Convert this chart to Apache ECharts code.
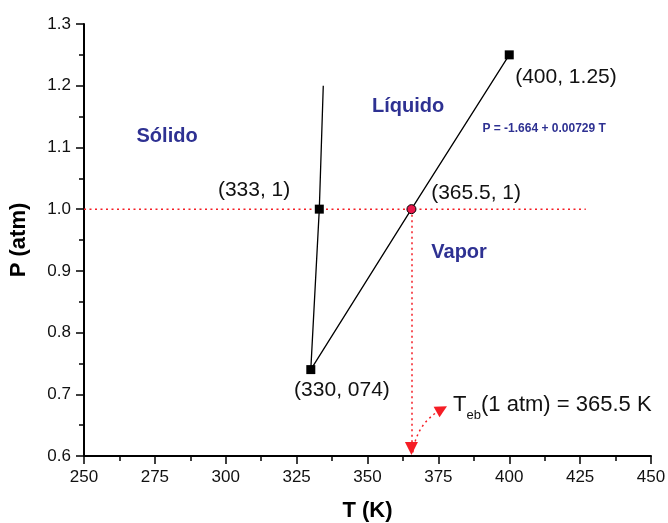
<!DOCTYPE html>
<html>
<head>
<meta charset="utf-8">
<script src="https://cdn.jsdelivr.net/npm/echarts@6/dist/echarts.min.js"></script>
<style>html,body{margin:0;padding:0;background:#fff;}#c{width:668px;height:523px;}</style>
</head>
<body>
<div id="c"></div>
<script>
// ---- data ----
const xTicks = [250, 275, 300, 325, 350, 375, 400, 425, 450];
const yTicks = [0.6, 0.7, 0.8, 0.9, 1.0, 1.1, 1.2, 1.3];
// solid-liquid line
const solidLineT = [330, 333, 334.4];
const solidLineP = [0.74, 1.0, 1.2];
// liquid-vapor line
const vaporLineT = [330, 365.5, 400];
const vaporLineP = [0.74, 1.0, 1.25];
// square markers
const markerT = [330, 333, 400];
const markerP = [0.74, 1.0, 1.25];
// boiling point
const boilT = [365.5];
const boilP = [1.0];
// 1 atm guide line
const guideT = [250, 427];
const guideP = [1.0, 1.0];
// vertical drop from boiling point towards the axis (arrow centre)
const dropT = [365.5, 365.5];
const dropP = [1.0, 0.612];
// curved arrow (from axis to label)
const curveT = [366, 376.2];
const curveP = [0.606, 0.676];
// annotations
const annText = ['Sólido', 'Líquido', 'Vapor', 'P = -1.664 + 0.00729 T', '(333, 1)', '(365.5, 1)', '(400, 1.25)', '(330, 074)'];
const annT = [279.3, 364.3, 382.3, 412.3, 310.0, 388.3, 420.0, 341.0];
const annP = [1.118, 1.167, 0.930, 1.130, 1.031, 1.026, 1.214, 0.706];
const annKind = ['region', 'region', 'region', 'eq', 'pt', 'pt', 'pt', 'pt'];
const tebT = 380.2, tebP = 0.682;

const FONT = '"Liberation Sans", Arial, Helvetica, sans-serif';
const BLUE = '#2e3192';
const RED = '#f51d25';

const kindStyle = {
  region: {fontSize: 20, fontWeight: 'bold', color: BLUE},
  eq: {fontSize: 12, fontWeight: 'bold', color: BLUE},
  pt: {fontSize: 21, fontWeight: 'normal', color: '#111'}
};

const zip = (a, b) => a.map((v, i) => [v, b[i]]);

const annData = annText.map((t, i) => ({
  value: [annT[i], annP[i]],
  label: Object.assign({show: true, formatter: t, position: 'inside', fontFamily: FONT, opacity: 1}, kindStyle[annKind[i]])
}));
annData.push({
  value: [tebT, tebP],
  label: {
    show: true, position: 'inside', align: 'left', fontFamily: FONT, opacity: 1,
    formatter: '{t|T}{s|eb}{t|(1 atm) = 365.5 K}',
    rich: {
      t: {fontSize: 22, color: '#111', fontFamily: FONT, lineHeight: 34},
      s: {fontSize: 13, color: '#111', fontFamily: FONT, lineHeight: 14, verticalAlign: 'bottom'}
    }
  }
});

const axisCommon = {
  type: 'value',
  nameLocation: 'middle',
  nameTextStyle: {fontFamily: FONT, fontSize: 22, fontWeight: 'bold', color: '#000'},
  axisLine: {show: true, onZero: false, lineStyle: {color: '#000', width: 2}},
  axisTick: {show: true, inside: false, length: 8, lineStyle: {color: '#000', width: 1.5}},
  minorTick: {show: true, splitNumber: 2, length: 5, lineStyle: {color: '#000', width: 1.5}},
  splitLine: {show: false},
  minorSplitLine: {show: false},
  axisLabel: {fontFamily: FONT, fontSize: 17, color: '#111', margin: 13}
};

const arrowLine = {
  type: 'lines', coordinateSystem: 'cartesian2d', z: 1,
  symbol: ['none', 'triangle'],
  lineStyle: {color: RED, width: 1.5, type: [2, 3.5], opacity: 1},
  itemStyle: {color: RED}
};

const chart = echarts.init(document.getElementById('c'), null, {renderer: 'canvas'});
chart.setOption({
  animation: false,
  backgroundColor: '#fff',
  grid: {left: 84, right: 17, top: 24, bottom: 67, containLabel: false, outerBoundsMode: 'none'},
  xAxis: Object.assign({}, axisCommon, {
    name: 'T (K)', nameGap: 44,
    min: xTicks[0], max: xTicks[xTicks.length - 1], interval: 25
  }),
  yAxis: Object.assign({}, axisCommon, {
    name: 'P (atm)', nameGap: 54,
    min: yTicks[0], max: yTicks[yTicks.length - 1], interval: 0.1,
    axisLabel: Object.assign({}, axisCommon.axisLabel, {formatter: v => v.toFixed(1)})
  }),
  series: [
    {
      type: 'line', data: zip(guideT, guideP), symbol: 'none', z: 1,
      lineStyle: {color: RED, width: 1.5, type: [2, 3.5]}
    },
    Object.assign({}, arrowLine, {
      symbolSize: [0, 13],
      data: [{coords: zip(dropT, dropP), lineStyle: {curveness: 0}}]
    }),
    Object.assign({}, arrowLine, {
      symbolSize: [0, 12],
      data: [{coords: zip(curveT, curveP), lineStyle: {curveness: 0.25}}]
    }),
    {
      type: 'line', data: zip(solidLineT, solidLineP), symbol: 'none', z: 2,
      lineStyle: {color: '#000', width: 1.3}
    },
    {
      type: 'line', data: zip(vaporLineT, vaporLineP), symbol: 'none', z: 2,
      lineStyle: {color: '#000', width: 1.3}
    },
    {
      type: 'scatter', data: zip(markerT, markerP), symbol: 'rect', symbolSize: 9, z: 3,
      itemStyle: {color: '#000', opacity: 1}
    },
    {
      type: 'scatter', data: zip(boilT, boilP), symbol: 'circle', symbolSize: 9, z: 3,
      itemStyle: {color: '#e8174a', borderColor: '#000', borderWidth: 1, opacity: 1}
    },
    {
      type: 'scatter', data: annData, symbolSize: 0, z: 4, silent: true,
      itemStyle: {opacity: 1}
    }
  ]
});
</script>
</body>
</html>
